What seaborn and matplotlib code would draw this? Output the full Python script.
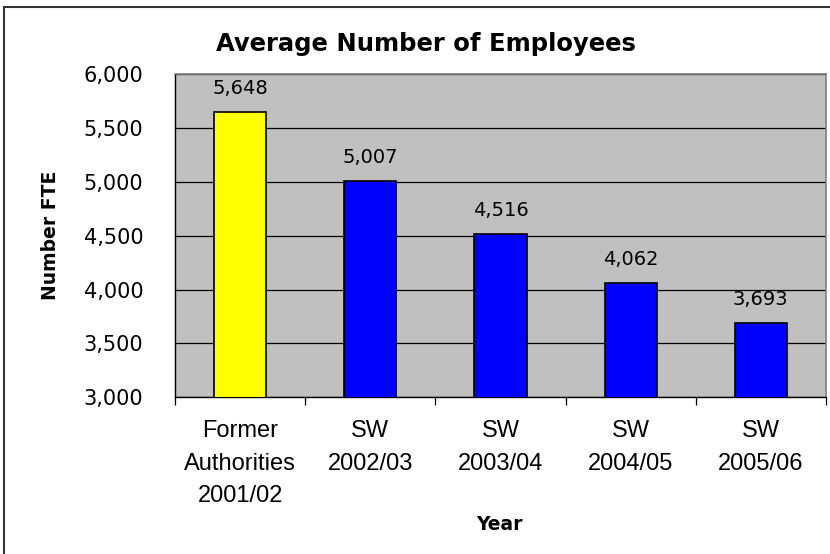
import matplotlib
matplotlib.use("Agg")
import matplotlib.pyplot as plt
from matplotlib.patches import Rectangle
from matplotlib.ticker import FuncFormatter, FixedLocator
import seaborn as sns

categories = ["Former\nAuthorities\n2001/02", "SW\n2002/03", "SW\n2003/04", "SW\n2004/05", "SW\n2005/06"]
employees = [5648, 5007, 4516, 4062, 3693]
bar_colors = ["#FFFF00", "#0000FF", "#0000FF", "#0000FF", "#0000FF"]
y_ticks = [3000, 3500, 4000, 4500, 5000, 5500, 6000]

sns.set_style("white")
plt.rcParams["font.family"] = ["DejaVu Sans"]
plt.rcParams["text.color"] = "black"
plt.rcParams["axes.labelcolor"] = "black"
plt.rcParams["xtick.color"] = "black"
plt.rcParams["ytick.color"] = "black"

fig = plt.figure(figsize=(8.3, 5.54), dpi=100)
ax = fig.add_axes([0.211, 0.283, 0.784, 0.583])
ax.set_facecolor("#C0C0C0")

sns.barplot(x=categories, y=employees, hue=categories, palette=bar_colors, legend=False,
            width=0.4, edgecolor="black", linewidth=1.2, saturation=1, ax=ax, zorder=3)

ax.set_ylim(3000, 6000)
ax.set_xlim(-0.5, 4.5)
ax.set_yticks(y_ticks)
ax.yaxis.set_major_formatter(FuncFormatter(lambda v, p: f"{int(v):,}"))
ax.grid(axis="y", color="black", linewidth=0.9, zorder=0)
ax.set_axisbelow(True)

# separators between categories on the x axis
ax.xaxis.set_minor_locator(FixedLocator([i - 0.5 for i in range(len(categories) + 1)]))
ax.tick_params(axis="x", which="major", length=0, pad=16.5)
ax.tick_params(axis="x", which="minor", length=6, width=0.9, color="black", direction="out")
ax.tick_params(axis="y", length=6, width=0.9, color="black", direction="out", labelsize=15, pad=17)
ax.tick_params(axis="x", which="both", bottom=True)
for lbl in ax.get_xticklabels():
    lbl.set_family(["Liberation Sans", "DejaVu Sans"])
    lbl.set_fontsize(17)
    lbl.set_linespacing(1.62)

for side in ["left", "bottom"]:
    ax.spines[side].set_color("black")
    ax.spines[side].set_linewidth(1)
for side in ["top", "right"]:
    ax.spines[side].set_color("#808080")
    ax.spines[side].set_linewidth(1.2)

for i, v in enumerate(employees):
    ax.annotate(f"{v:,}", (i, v), xytext=(0, 10), textcoords="offset points",
                ha="center", va="bottom", fontsize=14)

fig.text(0.513, 0.92, "Average Number of Employees", fontsize=17.5, fontweight="bold",
         ha="center", va="center")
ax.set_ylabel("Number FTE", fontsize=13.5, fontweight="bold")
ax.yaxis.label.set_va("center")
ax.yaxis.set_label_coords(-0.192, 0.5)
ax.set_xlabel("Year", fontsize=13.5, fontweight="bold")
ax.xaxis.set_label_coords(0.499, -0.366)

fig.patches.append(Rectangle((0.005, -0.05), 1.1, 0.987 + 0.05, transform=fig.transFigure,
                             fill=False, edgecolor="#333333", linewidth=1.5, zorder=0))

fig.savefig("out.png", dpi=100)
